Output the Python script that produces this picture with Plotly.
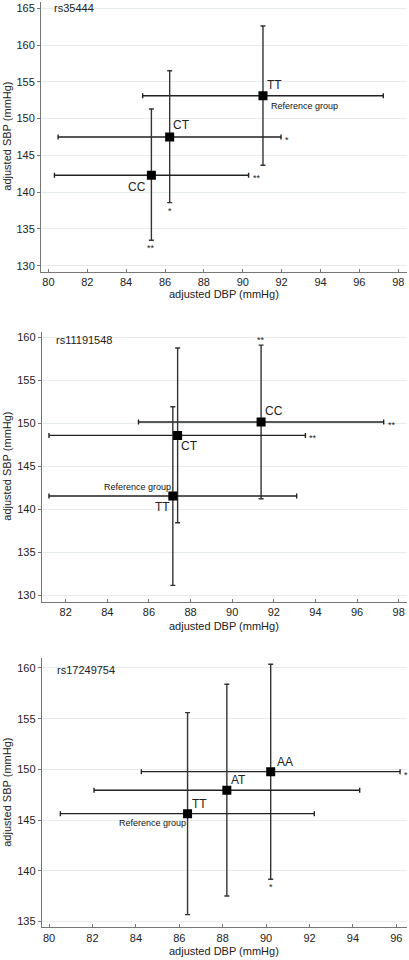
import plotly.graph_objects as go

# ---- data ----
p1_name = "rs35444"
p1_geno = ["TT", "CT", "CC"]
p1_dbp = [91.04, 86.24, 85.30]
p1_dbp_lo = [84.85, 80.50, 80.31]
p1_dbp_hi = [97.23, 91.97, 90.30]
p1_sbp = [153.1, 147.5, 142.3]
p1_sbp_lo = [143.65, 138.57, 133.45]
p1_sbp_hi = [162.6, 156.5, 151.3]

p2_name = "rs11191548"
p2_geno = ["CC", "CT", "TT"]
p2_dbp = [91.39, 87.38, 87.15]
p2_dbp_lo = [85.5, 81.2, 81.2]
p2_dbp_hi = [97.28, 93.52, 93.1]
p2_sbp = [150.16, 148.6, 141.55]
p2_sbp_lo = [141.24, 138.45, 131.16]
p2_sbp_hi = [159.1, 158.76, 151.94]

p3_name = "rs17249754"
p3_geno = ["AA", "AT", "TT"]
p3_dbp = [90.21, 88.19, 86.38]
p3_dbp_lo = [84.25, 82.07, 80.52]
p3_dbp_hi = [96.17, 94.31, 92.22]
p3_sbp = [149.78, 147.94, 145.64]
p3_sbp_lo = [139.17, 137.53, 135.69]
p3_sbp_hi = [160.36, 158.39, 155.6]

x_title = "adjusted DBP (mmHg)"
y_title = "adjusted SBP (mmHg)"
ref_text = "Reference group"

FONT = "Liberation Sans, Arial, sans-serif"
FS = 11
W, H = 409, 960

panels = [
    dict(name=p1_name, geno=p1_geno, x=p1_dbp, xlo=p1_dbp_lo, xhi=p1_dbp_hi,
         y=p1_sbp, ylo=p1_sbp_lo, yhi=p1_sbp_hi,
         xr=[79.62, 98.45], yr=[129.18, 165.9], xt=list(range(80, 99, 2)), yt=list(range(130, 166, 5)),
         px=(41, 407), py=(1.7, 271.7), titlepos=(0.029, 0.976), xtitle_shift=-22,
         labels=[(12, 11), (12, 12), (-14, -12)],
         ref=dict(idx=0, xshift=6, yshift=-10, anchor="left"),
         stars=[("x", 1, "*"), ("y", 1, "*"), ("x", 2, "**"), ("y", 2, "**")]),
    dict(name=p2_name, geno=p2_geno, x=p2_dbp, xlo=p2_dbp_lo, xhi=p2_dbp_hi,
         y=p2_sbp, ylo=p2_sbp_lo, yhi=p2_sbp_hi,
         xr=[80.85, 98.4], yr=[129.26, 160.66], xt=list(range(82, 99, 2)), yt=list(range(130, 161, 5)),
         px=(41.7, 407), py=(331.7, 601.7), titlepos=(0.034, 0.969), xtitle_shift=-24,
         labels=[(13, 11), (12, -11), (-10, -11)],
         ref=dict(idx=2, xshift=0, yshift=9, anchor="right"),
         stars=[("yt", 0, "**"), ("x", 0, "**"), ("x", 1, "**")]),
    dict(name=p3_name, geno=p3_geno, x=p3_dbp, xlo=p3_dbp_lo, xhi=p3_dbp_hi,
         y=p3_sbp, ylo=p3_sbp_lo, yhi=p3_sbp_hi,
         xr=[79.66, 96.49], yr=[134.44, 160.95], xt=list(range(80, 97, 2)), yt=list(range(135, 161, 5)),
         px=(41.7, 407), py=(658.3, 927.3), titlepos=(0.036, 0.957), xtitle_shift=-24,
         labels=[(14, 10), (12, 10), (12, 10)],
         ref=dict(idx=2, xshift=0, yshift=-9, anchor="right"),
         stars=[("x", 0, "*"), ("y", 0, "*")]),
]

fig = go.Figure()
annotations = []
layout = {}
for i, p in enumerate(panels):
    k = "" if i == 0 else str(i + 1)
    xa, ya = "x" + k, "y" + k
    fig.add_trace(go.Scatter(
        x=p["x"], y=p["y"], mode="markers", xaxis=xa, yaxis=ya,
        marker=dict(symbol="square", size=9, color="black"),
        error_x=dict(type="data", symmetric=False,
                     array=[h - v for h, v in zip(p["xhi"], p["x"])],
                     arrayminus=[v - l for v, l in zip(p["x"], p["xlo"])],
                     color="#222", thickness=1.4, width=2.5),
        error_y=dict(type="data", symmetric=False,
                     array=[h - v for h, v in zip(p["yhi"], p["y"])],
                     arrayminus=[v - l for v, l in zip(p["y"], p["ylo"])],
                     color="#333", thickness=1.4, width=2.5),
        showlegend=False, hoverinfo="skip"))
    dom_x = [p["px"][0] / W, p["px"][1] / W]
    dom_y = [1 - p["py"][1] / H, 1 - p["py"][0] / H]
    layout["xaxis" + k] = dict(domain=dom_x, range=p["xr"], tickvals=p["xt"], anchor=ya,
                               automargin=False,
                               showgrid=False, zeroline=False, showline=True, linecolor="#777",
                               linewidth=1, ticks="inside", ticklen=3, tickcolor="#777",
                               tickfont=dict(family=FONT, size=FS, color="#222"))
    layout["yaxis" + k] = dict(domain=dom_y, range=p["yr"], tickvals=p["yt"], anchor=xa,
                               automargin=False,
                               showgrid=True, gridcolor="#e6ecee", gridwidth=1, zeroline=False,
                               showline=True, linecolor="#777", linewidth=1,
                               ticks="outside", ticklen=3, tickcolor="#777",
                               tickfont=dict(family=FONT, size=FS, color="#222"))
    # panel name
    annotations.append(dict(text=p["name"], xref=xa + " domain", yref=ya + " domain",
                            x=p["titlepos"][0], y=p["titlepos"][1], xanchor="left", yanchor="middle",
                            showarrow=False, font=dict(family=FONT, size=FS, color="#222")))
    # axis titles
    annotations.append(dict(text=x_title, xref=xa + " domain", yref=ya + " domain",
                            x=0.5, y=0, yshift=p["xtitle_shift"], xanchor="center", yanchor="middle",
                            showarrow=False, font=dict(family=FONT, size=FS, color="#222")))
    annotations.append(dict(text=y_title, xref="paper", yref=ya + " domain",
                            x=7 / W, y=0.5, xanchor="center", yanchor="middle", textangle=-90,
                            showarrow=False, font=dict(family=FONT, size=FS, color="#222")))
    # genotype labels
    for j, g in enumerate(p["geno"]):
        dx, dy = p["labels"][j]
        annotations.append(dict(text=g, xref=xa, yref=ya, x=p["x"][j], y=p["y"][j],
                                xshift=dx, yshift=dy, xanchor="center", yanchor="middle",
                                showarrow=False, font=dict(family=FONT, size=12, color="#222")))
    r = p["ref"]
    annotations.append(dict(text=ref_text, xref=xa, yref=ya, x=p["x"][r["idx"]], y=p["y"][r["idx"]],
                            xshift=r["xshift"], yshift=r["yshift"], xanchor=r["anchor"], yanchor="middle",
                            showarrow=False, font=dict(family=FONT, size=9, color="#111")))
    for kind, j, s in p["stars"]:
        if kind == "x":
            annotations.append(dict(text=s, xref=xa, yref=ya, x=p["xhi"][j], y=p["y"][j],
                                    xshift=2, yshift=-3, xanchor="left", yanchor="middle",
                                    showarrow=False, font=dict(family=FONT, size=9, color="#222")))
        elif kind == "y":
            annotations.append(dict(text=s, xref=xa, yref=ya, x=p["x"][j], y=p["ylo"][j],
                                    yshift=-1, xanchor="center", yanchor="top",
                                    showarrow=False, font=dict(family=FONT, size=9, color="#222")))
        else:
            annotations.append(dict(text=s, xref=xa, yref=ya, x=p["x"][j], y=p["yhi"][j],
                                    yshift=-2, xanchor="center", yanchor="bottom",
                                    showarrow=False, font=dict(family=FONT, size=9, color="#222")))

fig.update_layout(width=W, height=H, margin=dict(l=0, r=0, t=0, b=0),
                  plot_bgcolor="white", paper_bgcolor="white",
                  annotations=annotations, **layout)
fig.write_html("out.html", config={"displayModeBar": False},
               post_script="document.body.style.margin='0px';")
